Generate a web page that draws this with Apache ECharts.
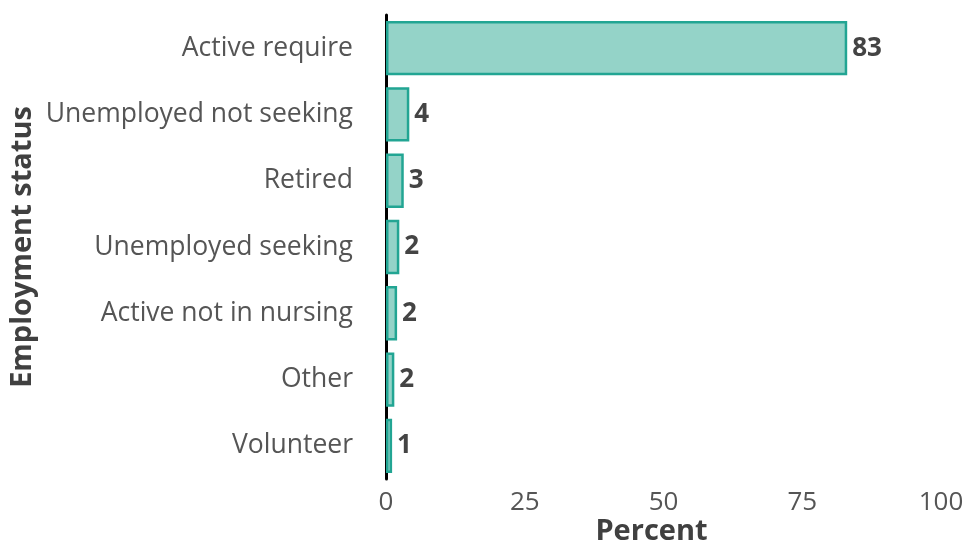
<!DOCTYPE html>
<html>
<head>
<meta charset="utf-8">
<script src="https://cdn.jsdelivr.net/npm/echarts@6/dist/echarts.min.js"></script>
<style>
  html, body { margin: 0; padding: 0; background: #fff; }
  #chart { width: 969px; height: 549px; }
</style>
</head>
<body>
<div id="chart"></div>
<script>
const categories = ['Active require', 'Unemployed not seeking', 'Retired', 'Unemployed seeking', 'Active not in nursing', 'Other', 'Volunteer'];
const percents = [83.1, 4.2, 3.2, 2.4, 2.0, 1.5, 1.1];
const xTicks = [0, 25, 50, 75, 100];

const chart = echarts.init(document.getElementById('chart'));
const font = '"Open Sans", "Noto Sans", sans-serif';

const option = {
  animation: false,
  grid: { left: 386, right: 28, top: 15, bottom: 70, outerBoundsMode: 'none', containLabel: false },
  xAxis: {
    type: 'value',
    min: 0,
    max: 100,
    interval: 25,
    name: 'Percent',
    nameLocation: 'middle',
    nameGap: 38,
    nameMoveOverlap: false,
    nameTextStyle: { fontFamily: font, fontSize: 29, fontWeight: 'bold', color: '#404040', padding: [0, 24, 0, 0] },
    axisLine: { show: false },
    axisTick: { show: false },
    splitLine: { show: false },
    axisLabel: {
      fontFamily: font, fontSize: 26, color: '#555', margin: 11,
      formatter: (v) => (xTicks.includes(v) ? String(v) : ''),
    },
  },
  yAxis: {
    type: 'category',
    inverse: true,
    data: categories,
    name: 'Employment status',
    nameLocation: 'middle',
    nameGap: 349,
    nameMoveOverlap: false,
    nameTextStyle: { fontFamily: font, fontSize: 29, fontWeight: 'bold', color: '#404040' },
    axisLine: { lineStyle: { color: '#000', width: 3 } },
    axisTick: { show: false },
    axisLabel: { fontFamily: font, fontSize: 26.5, color: '#555', margin: 33 },
  },
  series: [{
    type: 'bar',
    data: percents,
    barCategoryGap: '18%',
    itemStyle: { color: '#94d3c8', borderColor: '#22a593', borderWidth: 2.5 },
    label: {
      show: true,
      position: 'right',
      distance: 5,
      fontFamily: font,
      fontSize: 26,
      fontWeight: 'bold',
      color: '#444',
      formatter: (p) => String(Math.round(p.value)),
    },
  }],
};

chart.setOption(option);
</script>
</body>
</html>
